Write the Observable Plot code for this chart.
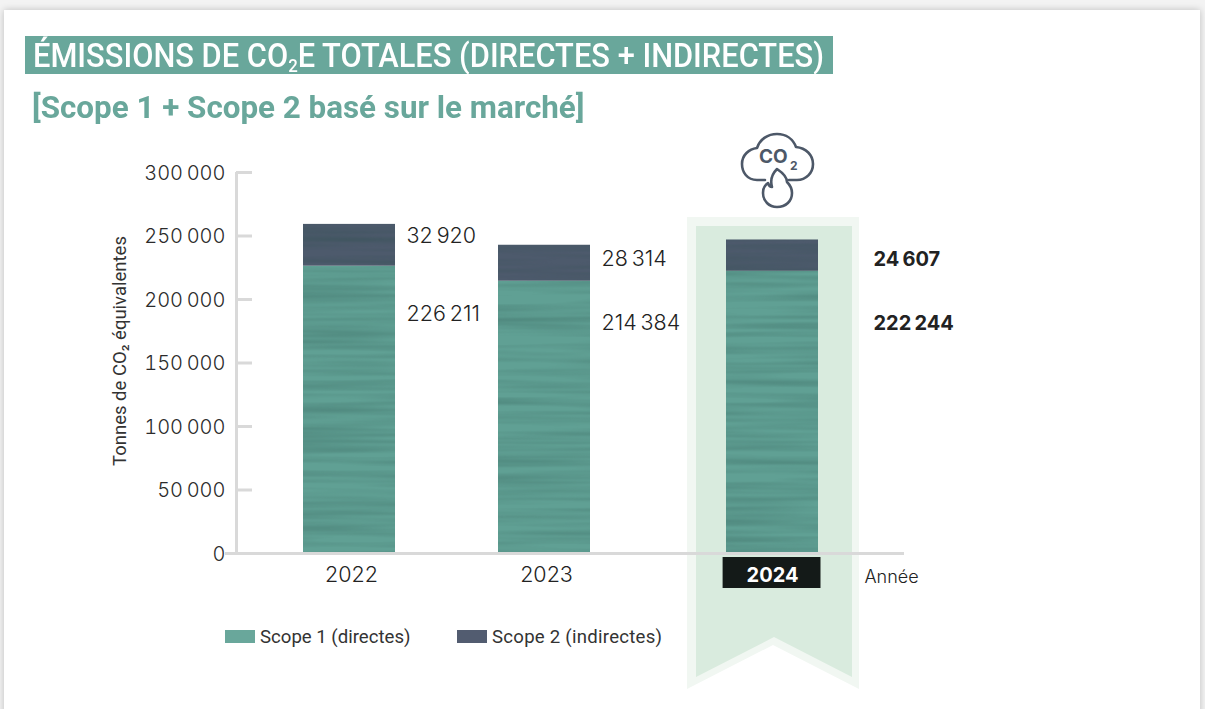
<!DOCTYPE html>
<html lang="fr"><head><meta charset="utf-8">
<script src="https://cdn.jsdelivr.net/npm/d3@7"></script>
<script src="https://cdn.jsdelivr.net/npm/@observablehq/plot@0.6"></script>
<style>
html,body{margin:0;padding:0;width:1205px;height:709px;overflow:hidden;background:#f3f3f3}
#card{position:absolute;left:4px;top:10px;width:1196px;height:720px;background:#fff;box-shadow:0 0 7px rgba(0,0,0,.22)}
#t1{position:absolute;left:25px;top:36px;width:808px;height:38px;background:#69a79b;color:#fff}
#t1 span.in{position:absolute;left:8px;top:1px;font:500 33px/38px Roboto,sans-serif;white-space:nowrap;transform-origin:0 50%;transform:scaleX(.934)}
#t1 sub{font-size:18px;line-height:0;vertical-align:-5px}
#t2{position:absolute;left:32px;top:87px;color:#69a79b;font:700 32px/40px Roboto,sans-serif;white-space:nowrap;transform-origin:0 50%;transform:scaleX(.98)}
#chart{position:absolute;left:0;top:130px}
#legend{position:absolute;left:0;top:625px;font:400 18.6px/24px Roboto,sans-serif;color:#333}
#legend i{position:absolute;top:5px;width:30px;height:13px}
#legend span{position:absolute;top:0;white-space:nowrap}
</style></head><body>
<div id="card"></div>
<div id="t1"><span class="in">ÉMISSIONS DE CO<sub>2</sub>E TOTALES (DIRECTES + INDIRECTES)</span></div>
<div id="t2">[Scope 1 + Scope 2 basé sur le marché]</div>
<div id="chart"></div>
<div id="legend">
<i style="left:225px;background:#69a79b"></i><span style="left:260px">Scope 1 (directes)</span>
<i style="left:457px;background:#525c70"></i><span style="left:492px;letter-spacing:.25px">Scope 2 (indirectes)</span>
</div>
<script>
const years = [2022, 2023, 2024];
const scope1 = [226211, 214384, 222244];
const scope2 = [32920, 28314, 24607];
const yTicks = [0, 50000, 100000, 150000, 200000, 250000, 300000];
const labelLevelsScope2 = [249600, 231500, 231500];
const labelLevelsScope1 = [188200, 181100, 181100];
const halfBar = 0.24;

const C1 = "#60a094", C2 = "#4d5a6c", GRID = "#d9d9d9", FONT = "Inter, sans-serif", DIN = "Roboto, sans-serif";
const fmt = d => d3.format(",")(d).replace(/,/g, "\u202f");
const rows = years.map((year, i) => ({year, s1: scope1[i], s2: scope2[i], l1: labelLevelsScope1[i], l2: labelLevelsScope2[i]}));

const ribbon = (_, scales) => {
  const cx = scales.x(2024) + 1;
  const svg = d3.create("svg:g");
  const y0 = scales.y(0);
  const poly = (c, hw, t, side, notch) => `M${c-hw},${t}H${c+hw}V${side}L${c},${notch}L${c-hw},${side}Z`;
  svg.append("path").attr("d", poly(cx, 86, y0-336, y0+136, y0+92)).attr("fill", "#f1f7f2");
  svg.append("path").attr("d", poly(cx+1, 78, y0-327, y0+124, y0+84)).attr("fill", "#d9ebde");
  return svg.node();
};

const icon = () => {
  const g = d3.create("svg:g").attr("transform", "translate(0,-130)").attr("text-anchor", "start");
  const p = g.append("g").attr("fill", "none").attr("stroke", "#4d5868").attr("stroke-width", 2.6).attr("stroke-linejoin", "round").attr("stroke-linecap", "round");
  p.append("path").attr("d", "M765 180H757C747 180 742 172 742 164C742 155 749 149 757 148C760 139 768 134 777 134C786 134 793 139 796 147C806 148 813 155 813 164C813 173 806 180 797 180H789");
  p.append("path").attr("d", "M777 169C783 173 787 178 787 182C791 186 792 190 792 193C792 201 786 207 777 207C769 207 763 201 763 193C763 189 765 185 768 183C769 186 770 187 772 187C770 180 772 174 777 169Z");
  g.append("text").attr("x", 759).attr("y", 163).attr("font-family", FONT).attr("font-weight", 700).attr("font-size", 19).attr("fill", "#4d5868").text("CO");
  g.append("text").attr("x", 790).attr("y", 170).attr("font-family", FONT).attr("font-weight", 700).attr("font-size", 12).attr("fill", "#4d5868").text("2");
  return g.node();
};

const chart = Plot.plot({
  width: 1205, height: 579,
  marginLeft: 225, marginRight: 301, marginTop: 42, marginBottom: 156,
  style: {background: "transparent", overflow: "visible"},
  x: {type: "linear", axis: null,
      domain: [2021.4, 2021.48, 2022 - halfBar, 2022 + halfBar, 2023 - halfBar, 2023 + halfBar, 2024 - halfBar, 2024 + halfBar],
      range: [236, 252, 303, 395, 498, 590, 726, 818]},
  y: {domain: [0, 300000], axis: null},
  marks: [
    ribbon,
    Plot.ruleX([2021.4], {y1: 0, y2: 300000, stroke: GRID, strokeWidth: 3}),
    Plot.ruleY(yTicks.slice(1), {x1: 2021.4, x2: 2021.48, stroke: GRID, strokeWidth: 3}),
    Plot.rectY(rows, {x1: d => d.year - halfBar, x2: d => d.year + halfBar, y1: 0, y2: "s1", fill: C1, className: "tex"}),
    Plot.rectY(rows, {x1: d => d.year - halfBar, x2: d => d.year + halfBar, y1: "s1", y2: d => d.s1 + d.s2, fill: C2, className: "tex"}),
    Plot.ruleY([0], {stroke: GRID, strokeWidth: 3}),
    Plot.axisY({ticks: yTicks, tickSize: 0, tickPadding: 0, tickFormat: fmt, anchor: "left", label: null, dy: 1,
      fontFamily: FONT, fontSize: 20, fontWeight: 300, fill: "#2b2b2b"}),
    Plot.text(["Tonnes de CO₂ équivalentes"], {frameAnchor: "left", textAnchor: "middle", dx: -105, dy: -12, rotate: -90, fontFamily: DIN, fontSize: 18.5, fill: "#333"}),
    Plot.text(rows.slice(0, 2), {x: d => d.year + halfBar, y: "l2", text: d => fmt(d.s2), textAnchor: "start", dx: 11, fontFamily: FONT, fontSize: 21.5, fontWeight: 300, fill: "#222"}),
    Plot.text(rows.slice(0, 2), {x: d => d.year + halfBar, y: "l1", text: d => fmt(d.s1), textAnchor: "start", dx: 11, fontFamily: FONT, fontSize: 21.5, fontWeight: 300, fill: "#222"}),
    Plot.text(rows.slice(2), {x: d => d.year + halfBar, y: "l2", text: d => fmt(d.s2), textAnchor: "start", dx: 55, fontFamily: FONT, fontSize: 20, fontWeight: 700, fill: "#222"}),
    Plot.text(rows.slice(2), {x: d => d.year + halfBar, y: "l1", text: d => fmt(d.s1), textAnchor: "start", dx: 55, fontFamily: FONT, fontSize: 20, fontWeight: 700, fill: "#222"}),
    Plot.text(years.slice(0, 2), {x: d => d, y: 0, dy: 22, text: d => String(d), dx: 2, fontFamily: FONT, fontSize: 21.5, fontWeight: 300, fill: "#222"}),
    Plot.rectY([2024], {x1: d => d - halfBar - 0.013, x2: d => d + halfBar + 0.013, y1: 0, y2: 0, fill: "#141a18",
      render: (index, scales, values, dims, ctx, next) => {
        const g = next(index, scales, values, dims, ctx);
        d3.select(g).selectAll("rect").attr("y", scales.y(0) + 4).attr("height", 31);
        return g;
      }}),
    Plot.text([2024], {x: d => d, y: 0, dy: 22, text: d => String(d), fontFamily: FONT, fontSize: 20, fontWeight: 700, fill: "#fff"}),
    Plot.text(["Année"], {x: [2024 + halfBar], y: [0], dx: 46, dy: 24, textAnchor: "start", fontFamily: FONT, fontWeight: 300, fontSize: 18, fill: "#222"}),
    icon
  ]
});

// subtle wavy surface of the bars
const defs = d3.select(chart).append("defs");
const f = defs.append("filter").attr("id", "wave").attr("x", 0).attr("y", 0).attr("width", 1).attr("height", 1).attr("color-interpolation-filters", "sRGB");
f.append("feTurbulence").attr("type", "fractalNoise").attr("baseFrequency", "0.005 0.14").attr("numOctaves", 2).attr("seed", 4).attr("result", "n");
f.append("feColorMatrix").attr("in", "n").attr("type", "matrix").attr("values", "0 0 0 0 0.15  0 0 0 0 0.3  0 0 0 0 0.28  0.55 0 0 0 -0.2").attr("result", "a");
f.append("feComposite").attr("in", "a").attr("in2", "SourceGraphic").attr("operator", "in").attr("result", "c");
const m = f.append("feMerge");
m.append("feMergeNode").attr("in", "SourceGraphic");
m.append("feMergeNode").attr("in", "c");
d3.select(chart).selectAll(".tex rect, g.tex rect").attr("filter", "url(#wave)");
document.getElementById("chart").append(chart);
</script>
</body></html>
